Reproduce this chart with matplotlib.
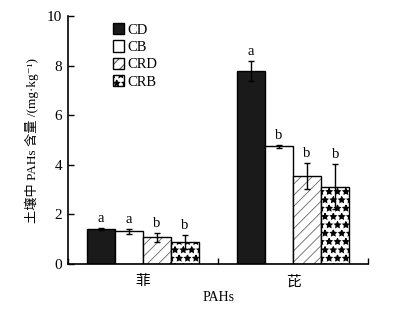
import numpy as np
import matplotlib.pyplot as plt

plt.rcParams['font.family'] = ['Liberation Serif', 'Noto Sans CJK SC', 'DejaVu Sans']

# data
categories = ['菲', '芘']
series = ['CD', 'CB', 'CRD', 'CRB']
values = {
    'CD':  [1.42, 7.78],
    'CB':  [1.32, 4.75],
    'CRD': [1.08, 3.55],
    'CRB': [0.89, 3.12],
}
errors = {
    'CD':  [0.03, 0.40],
    'CB':  [0.10, 0.07],
    'CRD': [0.17, 0.52],
    'CRB': [0.27, 0.90],
}
letters = {
    'CD':  ['a', 'a'],
    'CB':  ['a', 'b'],
    'CRD': ['b', 'b'],
    'CRB': ['b', 'b'],
}

styles = {
    'CD':  dict(facecolor='#1a1a1a', hatch=None, hlw=0.6),
    'CB':  dict(facecolor='white', hatch=None, hlw=0.6),
    'CRD': dict(facecolor='white', hatch='///', hlw=0.6),
    'CRB': dict(facecolor='white', hatch='**', hlw=0.9),
}

fig = plt.figure(figsize=(3.95, 3.14), dpi=100)
ax = fig.add_axes([0.172, 0.159, 0.760, 0.790])

x = np.arange(len(categories))
width = 0.187
for i, s in enumerate(series):
    pos = x + (i - 1.5) * width
    st = styles[s]
    plt.rcParams['hatch.linewidth'] = st['hlw']
    bars = ax.bar(pos, values[s], width, facecolor=st['facecolor'], edgecolor='black',
                  linewidth=1.0, hatch=st['hatch'], label=s, zorder=2)
    if st['hatch'] == '///':
        for b in bars:
            b._hatch_color = (0.4, 0.4, 0.4, 1)
    ax.errorbar(pos, values[s], yerr=errors[s], fmt='none', ecolor='black',
                elinewidth=1.0, capsize=2.5, capthick=1.0, zorder=3)
    for p, v, e, l in zip(pos, values[s], errors[s], letters[s]):
        ax.text(p, v + e + 0.12, l, ha='center', va='bottom', fontsize=10.5)

ax.set_xlim(-0.5, 1.5)
ax.set_ylim(0, 10)
ax.set_yticks([0, 2, 4, 6, 8, 10])
ax.set_xticks([-0.5, 0.5, 1.5], minor=False)
ax.set_xticklabels(['', '', ''])
ax.set_xticks(x, minor=True)
ax.set_xticklabels(categories, minor=True, fontsize=10.5)
ax.tick_params(axis='x', which='minor', length=0, pad=8)
ax.tick_params(axis='x', which='major', direction='in', length=4, width=1)
ax.tick_params(axis='y', direction='in', length=4, width=1, labelsize=11, pad=4)

for side in ['top', 'right']:
    ax.spines[side].set_visible(False)
for side in ['left', 'bottom']:
    ax.spines[side].set_linewidth(1.2)

ax.set_ylabel('土壤中 PAHs 含量 /(mg·kg⁻¹)', fontsize=9.5, labelpad=6)
ax.set_xlabel('PAHs', fontsize=10, labelpad=2)

leg = ax.legend(loc='upper left', bbox_to_anchor=(0.13, 0.995), frameon=False,
                handlelength=0.8, handleheight=0.8, handletextpad=0.2,
                labelspacing=0.25, fontsize=10.5, borderaxespad=0)

fig.savefig('out.png', dpi=100)
